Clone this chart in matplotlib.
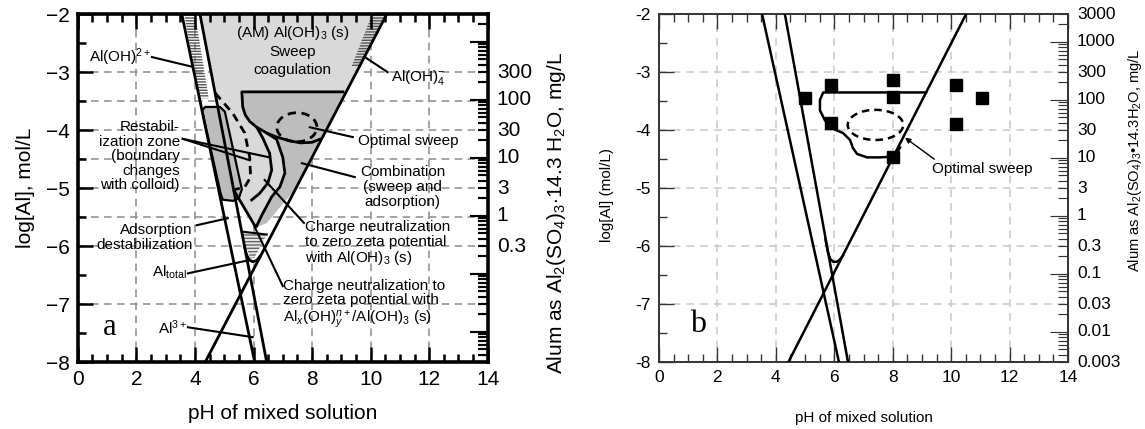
import numpy as np
import matplotlib.pyplot as plt
from matplotlib.patches import Ellipse, Polygon
from matplotlib.ticker import MultipleLocator, LogLocator, NullFormatter, FuncFormatter
import matplotlib.transforms as mtransforms

plt.rcParams['font.family'] = ['Liberation Sans', 'DejaVu Sans']
plt.rcParams['mathtext.fontset'] = 'custom'
plt.rcParams['mathtext.rm'] = 'Liberation Sans'
plt.rcParams['mathtext.it'] = 'Liberation Sans:italic'

# alum dose scale (right axes), mg/L
ALUM_LIM = (0.003, 3000)
A_ALUM_LABELS = ['300', '100', '30', '10', '3', '1', '0.3']
B_ALUM_LABELS = ['3000', '1000', '300', '100', '30', '10', '3', '1', '0.3', '0.1', '0.03', '0.01', '0.003']

# ---- panel a: species lines (pH, log[Al]) ----
A_L1_PH, A_L1_LOG = [3.55, 6.04], [-2, -8]          # Al3+
A_L2_PH, A_L2_LOG = [4.17, 6.45], [-2, -8]          # Al(OH)2+
A_P_PH, A_P_LOG = [4.35, 10.55], [-8, -2]           # Al(OH)4-
A_TOT_PH = [5.68, 5.76, 5.86, 5.97, 6.1, 6.25]      # Al total, corner
A_TOT_LOG = [-5.97, -6.15, -6.24, -6.27, -6.25, -6.16]

# sweep zone outline
A_SWEEP_PH = [9.1, 5.6, 5.63, 5.72, 5.87, 6.11, 6.45, 6.8, 7.2, 7.6, 8.0, 8.3]
A_SWEEP_LOG = [-3.34, -3.34, -3.6, -3.74, -3.85, -3.95, -4.05, -4.12, -4.18, -4.22, -4.21, -4.15]
# charge neutralization boundaries
A_U1_PH = [6.11, 6.32, 6.55, 6.62, 6.49, 6.21, 5.9]
A_U1_LOG = [-3.95, -4.14, -4.4, -4.69, -4.91, -5.09, -5.22]
A_U2_PH = [6.45, 6.79, 7.0, 7.07, 6.9, 6.62, 6.3, 6.08]
A_U2_LOG = [-4.05, -4.16, -4.47, -4.74, -4.98, -5.15, -5.45, -5.68]
A_VLEFT_PH, A_VLEFT_LOG = [5.32, 6.08], [-5.03, -5.68]
A_VRIGHT_PH, A_VRIGHT_LOG = [7.45, 6.45, 6.08], [-5.0, -5.6, -5.68]
# restabilization zone (dashed)
A_RESTAB_PH = [4.69, 5.29, 5.7, 5.87, 5.9, 5.7, 5.32]
A_RESTAB_LOG = [-3.36, -3.71, -4.05, -4.47, -4.81, -4.98, -5.03]
# restabilization band between the two steep lines
A_BAND_PH = [4.24, 4.35, 4.85, 5.02, 5.6, 5.5, 5.3, 4.95, 4.88]
A_BAND_LOG = [-3.66, -3.6, -3.6, -3.68, -5.02, -5.17, -5.22, -5.2, -5.1]
# adsorption destabilization wedge
A_ADS_PH = [5.6, 6.45, 6.05, 5.9, 5.75]
A_ADS_LOG = [-5.75, -5.8, -6.18, -6.22, -6.0]
# optimal sweep ellipse: centre, width, height
A_OPT = (7.48, -3.95, 1.37, 0.5)

# ---- panel b ----
B_L1_PH, B_L1_LOG = [3.53, 6.16], [-2, -8]
B_L2_PH, B_L2_LOG = [4.31, 6.47], [-2, -8]
B_P_PH, B_P_LOG = [4.43, 10.51], [-8, -2]
B_TOT_PH = [5.7, 5.78, 5.86, 5.96, 6.08, 6.18, 6.3]
B_TOT_LOG = [-5.89, -6.1, -6.22, -6.27, -6.27, -6.24, -6.16]
B_SWEEP_PH = [9.14, 5.62, 5.51, 5.51, 5.68, 5.92, 6.3, 6.54, 6.64, 6.78, 7.12, 7.57, 7.9, 8.1, 8.25]
B_SWEEP_LOG = [-3.35, -3.35, -3.48, -3.66, -3.83, -3.97, -4.05, -4.17, -4.31, -4.41, -4.47, -4.47, -4.46, -4.42, -4.3]
B_OPT = (7.41, -3.91, 1.9, 0.52)
# jar test points
B_JAR_PH = [5.0, 5.9, 5.9, 8.0, 8.0, 8.0, 10.15, 10.15, 11.05]
B_JAR_LOG = [-3.45, -3.22, -3.88, -3.14, -3.43, -4.47, -3.22, -3.9, -3.45]

fig = plt.figure(figsize=(11.45, 4.29), dpi=100)
ax_a = fig.add_axes([0.068, 0.156, 0.358, 0.811])
ax_b = fig.add_axes([0.5755, 0.156, 0.3573, 0.811])


def style_axes(ax, grid_y, grid_color, dash, spine_w, tick_fs, minus):
    ax.set_xlim(0, 14)
    ax.set_ylim(-8, -2)
    ax.xaxis.set_major_locator(MultipleLocator(2))
    ax.xaxis.set_minor_locator(MultipleLocator(0.5))
    ax.yaxis.set_major_locator(MultipleLocator(1))
    ax.yaxis.set_minor_locator(MultipleLocator(0.5))
    ax.yaxis.set_major_formatter(FuncFormatter(lambda v, p: f'{v:.0f}'.replace('-', minus)))
    ax.tick_params(which='both', direction='in', top=True, right=False, labelsize=tick_fs,
                   width=spine_w * 0.7, color=ax.spines['left'].get_edgecolor())
    ax.tick_params(which='major', length=11, pad=6)
    ax.tick_params(which='minor', length=6)
    for x in range(2, 14, 2):
        ax.axvline(x, color=grid_color, lw=1.1, dashes=dash, zorder=0.5)
    for y in grid_y:
        ax.axhline(y, color=grid_color, lw=1.1, dashes=dash, zorder=0.5)
    for s in ax.spines.values():
        s.set_linewidth(spine_w)


def alum_axis(ax, labels, fs, spine_w, color):
    ax2 = ax.twinx()
    ax2.set_yscale('log')
    ax2.set_ylim(*ALUM_LIM)
    ax2.yaxis.set_major_locator(LogLocator(base=10, numticks=20))
    ax2.yaxis.set_minor_locator(LogLocator(base=10, subs=np.arange(2, 10), numticks=20))
    ax2.yaxis.set_major_formatter(NullFormatter())
    ax2.yaxis.set_minor_formatter(NullFormatter())
    ax2.tick_params(which='both', direction='in', width=spine_w * 0.6, color=color)
    ax2.tick_params(which='major', length=13)
    ax2.tick_params(which='minor', length=7)
    for s in ax2.spines.values():
        s.set_visible(False)
    trans = mtransforms.blended_transform_factory(ax2.transAxes, ax2.transData)
    for lab in labels:
        ax2.text(1.022, float(lab), lab, transform=trans, va='center', ha='left', fontsize=fs)
    return ax2


# ---------------- panel a ----------------
style_axes(ax_a, [-3, -3.5, -4, -4.5, -5, -5.5, -6, -7], '#8c8c8c', (5, 3.5), 2.6, 15, '\u2212')
ax_a2 = alum_axis(ax_a, A_ALUM_LABELS, 15, 2.6, 'black')

# light grey coagulation wedge
wedge = list(zip([A_L2_PH[0], A_P_PH[1]], [A_L2_LOG[0], A_P_LOG[1]]))
wedge += list(zip(A_VRIGHT_PH, A_VRIGHT_LOG)) + list(zip(A_VLEFT_PH[::-1], A_VLEFT_LOG[::-1]))
ax_a.add_patch(Polygon(wedge, closed=True, fc='#d9d9d9', ec='none', zorder=1))

# darker sweep / combination zone
poly = [(A_SWEEP_PH[0], A_SWEEP_LOG[0])]
poly += list(zip(A_VRIGHT_PH, A_VRIGHT_LOG))
poly += list(zip(A_U2_PH, A_U2_LOG))[::-1]
poly += list(zip(A_SWEEP_PH[1:7], A_SWEEP_LOG[1:7]))[::-1]
ax_a.add_patch(Polygon(poly, closed=True, fc='#bdbdbd', ec='none', zorder=1.2))

# band along the steep lines
ax_a.add_patch(Polygon(list(zip(A_BAND_PH, A_BAND_LOG)), closed=True, fc='#bcbcbc',
                       ec='black', lw=1.6, zorder=2, joinstyle='round'))

# hatched strips
x1 = A_L1_PH[0]
ax_a.add_patch(Polygon([(x1 + 0.08, -2), (x1 + 0.45, -2), (4.47, -3.45), (4.15, -3.45)],
                       closed=True, fc='none', ec='#555555', lw=0, hatch='------', zorder=1.5))
xp = A_P_PH[1]
ax_a.add_patch(Polygon([(xp - 0.5, -2), (xp - 0.05, -2), (9.65, -2.9), (9.35, -2.9)],
                       closed=True, fc='none', ec='#555555', lw=0, hatch='------', zorder=1.5))
ax_a.add_patch(Polygon(list(zip(A_ADS_PH, A_ADS_LOG)), closed=True, fc='#e8e8e8',
                       ec='#666666', lw=0, hatch='-----', zorder=1.5))
ax_a.plot(A_ADS_PH[:2], A_ADS_LOG[:2], color='black', lw=1.5, zorder=3)

for xs, ys in [(A_L1_PH, A_L1_LOG), (A_L2_PH, A_L2_LOG), (A_P_PH, A_P_LOG), (A_TOT_PH, A_TOT_LOG),
               (A_SWEEP_PH, A_SWEEP_LOG), (A_U1_PH, A_U1_LOG), (A_U2_PH, A_U2_LOG),
               (A_VLEFT_PH, A_VLEFT_LOG)]:
    ax_a.plot(xs, ys, color='black', lw=2.0, zorder=3, solid_capstyle='butt')
ax_a.plot(A_RESTAB_PH, A_RESTAB_LOG, color='black', lw=2.0, dashes=(3, 2), zorder=3)
cx, cy, w, h = A_OPT
ax_a.add_patch(Ellipse((cx, cy), w, h, fc='none', ec='black', lw=2.0, ls=(0, (3, 2)), zorder=3))

fs = 11
lead = dict(color='black', lw=1.5, zorder=4)
ax_a.text(7.34, -2.33, '(AM) Al(OH)$_3$ (s)', ha='center', va='center', fontsize=fs, zorder=4)
ax_a.text(7.34, -2.66, 'Sweep', ha='center', va='center', fontsize=fs, zorder=4)
ax_a.text(7.34, -2.97, 'coagulation', ha='center', va='center', fontsize=fs, zorder=4)
ax_a.text(1.43, -2.74, 'Al(OH)$^{2+}$', ha='center', va='center', fontsize=fs, zorder=4)
ax_a.plot([2.53, 3.93], [-2.74, -2.91], **lead)
ax_a.text(11.64, -3.09, 'Al(OH)$_4^{-}$', ha='center', va='center', fontsize=fs, zorder=4)
ax_a.plot([10.58, 9.8], [-3.0, -2.74], **lead)
ax_a.text(11.3, -4.19, 'Optimal sweep', ha='center', va='center', fontsize=fs, zorder=4)
ax_a.plot([9.39, 7.92], [-4.12, -3.95], **lead)
ax_a.text(11.1, -4.98, 'Combination\n(sweep and\nadsorption)', ha='center', va='center',
          fontsize=fs, linespacing=1.05, zorder=4)
ax_a.plot([9.46, 7.65], [-4.81, -4.57], **lead)
ax_a.text(3.48, -4.45, 'Restabil-\nization zone\n(boundary\nchanges\nwith colloid)', ha='right',
          va='center', multialignment='right', fontsize=fs, linespacing=1.05, zorder=4)
ax_a.plot([3.58, 5.87], [-4.15, -4.52], **lead)
ax_a.plot([3.58, 6.55], [-4.15, -4.47], **lead)
ax_a.text(3.93, -5.85, 'Adsorption\ndestabilization', ha='right', va='center',
          multialignment='right', fontsize=fs, linespacing=1.05, zorder=4)
ax_a.plot([4.06, 5.12], [-5.64, -5.52], **lead)
ax_a.text(3.72, -6.45, 'Al$_{\\mathrm{total}}$', ha='right', va='center', fontsize=fs, zorder=4)
ax_a.plot([3.76, 5.87], [-6.47, -6.24], **lead)
ax_a.text(3.72, -7.4, 'Al$^{3+}$', ha='right', va='center', fontsize=fs, zorder=4)
ax_a.plot([3.76, 5.97], [-7.4, -7.57], **lead)
ax_a.text(7.75, -5.96, 'Charge neutralization\nto zero zeta potential\nwith Al(OH)$_3$ (s)',
          ha='left', va='center', fontsize=fs, linespacing=1.05, zorder=4)
ax_a.plot([7.72, 6.38], [-5.6, -4.86], **lead)
ax_a.text(7.0, -7.0, 'Charge neutralization to\nzero zeta potential with\n'
          'Al$_x$(OH)$_y^{n+}$/Al(OH)$_3$ (s)', ha='left', va='center', fontsize=fs,
          linespacing=1.05, zorder=4)
ax_a.plot([7.0, 6.04], [-6.69, -5.67], **lead)
ax_a.text(1.09, -7.41, 'a', ha='center', va='center', fontsize=22, family='Liberation Serif')

ax_a.set_xlabel('pH of mixed solution', fontsize=15)
ax_a.xaxis.set_label_coords(0.5, -0.12)
ax_a.set_ylabel('log[Al], mol/L', fontsize=15)
ax_a.yaxis.set_label_coords(-0.105, 0.5)
ax_a2.set_ylabel('Alum as Al$_2$(SO$_4$)$_3$$\\cdot$14.3 H$_2$O, mg/L', fontsize=15)
ax_a2.yaxis.set_label_coords(1.139, 0.43)

# ---------------- panel b ----------------
style_axes(ax_b, [-3, -4, -5, -6, -7], '#c8c8c8', (5, 4), 1.4, 12.5, '-')
for s in ax_b.spines.values():
    s.set_edgecolor('#333333')
ax_b.tick_params(which='both', color='#333333')
ax_b2 = alum_axis(ax_b, B_ALUM_LABELS, 12.5, 1.4, '#333333')

for xs, ys in [(B_L1_PH, B_L1_LOG), (B_L2_PH, B_L2_LOG), (B_P_PH, B_P_LOG), (B_TOT_PH, B_TOT_LOG),
               (B_SWEEP_PH, B_SWEEP_LOG)]:
    ax_b.plot(xs, ys, color='black', lw=1.8, zorder=3)
cx, cy, w, h = B_OPT
ax_b.add_patch(Ellipse((cx, cy), w, h, fc='none', ec='black', lw=1.8, ls=(0, (3, 2)), zorder=3))
ax_b.plot(B_JAR_PH, B_JAR_LOG, ls='none', marker='s', ms=8, color='black', zorder=4)
ax_b.annotate('Optimal sweep', xy=(8.42, -4.13), xytext=(11.06, -4.67), ha='center', va='center',
              fontsize=11, arrowprops=dict(arrowstyle='-|>', color='black', lw=1.0,
                                           mutation_scale=8, shrinkA=0, shrinkB=0,
                                           relpos=(0.1, 0.8)))
ax_b.text(1.35, -7.35, 'b', ha='center', va='center', fontsize=23, family='Liberation Serif')

ax_b.set_xlabel('pH of mixed solution', fontsize=11)
ax_b.xaxis.set_label_coords(0.5, -0.14)
ax_b.set_ylabel('log[Al] (mol/L)', fontsize=11)
ax_b.yaxis.set_label_coords(-0.11, 0.48)
ax_b2.set_ylabel('Alum as Al$_2$(SO$_4$)$_3$\u202214.3H$_2$O, mg/L', fontsize=10.5)
ax_b2.yaxis.set_label_coords(1.142, 0.58)

fig.savefig('out.png', dpi=100)
